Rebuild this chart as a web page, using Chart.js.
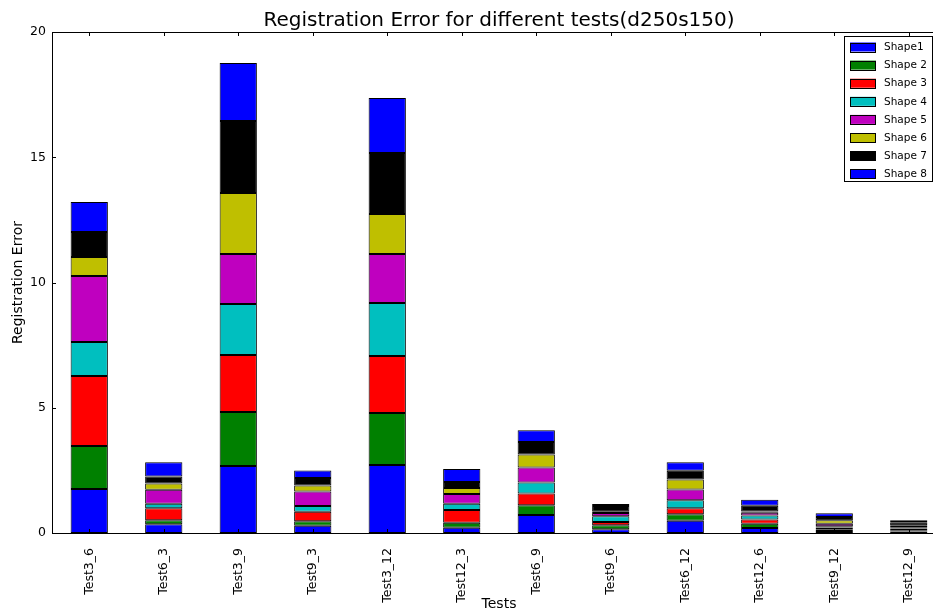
<!DOCTYPE html>
<html>
<head>
<meta charset="utf-8">
<script src="https://cdn.jsdelivr.net/npm/chart.js@4/dist/chart.umd.min.js"></script>
<style>
  html, body { margin: 0; padding: 0; background: #fff; overflow: hidden; width: 933px; height: 611px; }
  #wrap { width: 950px; height: 611px; }
</style>
</head>
<body>
<div id="wrap"><canvas id="c" width="950" height="611"></canvas></div>
<script>
const chartTitle = 'Registration Error for different tests(d250s150)';
const xTitle = 'Tests';
const yTitle = 'Registration Error';
const categories = ['Test3_6','Test6_3','Test3_9','Test9_3','Test3_12','Test12_3','Test6_9','Test9_6','Test6_12','Test12_6','Test9_12','Test12_9'];
const seriesNames = ['Shape1','Shape 2','Shape 3','Shape 4','Shape 5','Shape 6','Shape 7','Shape 8'];
const shape1 = [1.76, 0.35, 2.67, 0.29, 2.71, 0.21, 0.72, 0.15, 0.49, 0.20, 0.08, 0.06];
const shape2 = [1.71, 0.16, 2.16, 0.18, 2.08, 0.20, 0.39, 0.16, 0.26, 0.17, 0.07, 0.05];
const shape3 = [2.80, 0.48, 2.28, 0.38, 2.28, 0.51, 0.47, 0.13, 0.24, 0.17, 0.07, 0.07];
const shape4 = [1.35, 0.18, 2.03, 0.23, 2.11, 0.25, 0.44, 0.23, 0.32, 0.16, 0.05, 0.03];
const shape5 = [2.64, 0.56, 2.00, 0.58, 1.96, 0.39, 0.59, 0.13, 0.43, 0.11, 0.10, 0.07];
const shape6 = [0.76, 0.25, 2.43, 0.24, 1.59, 0.24, 0.52, 0.05, 0.40, 0.05, 0.14, 0.03];
const shape7 = [1.00, 0.28, 2.88, 0.30, 2.44, 0.24, 0.50, 0.23, 0.35, 0.23, 0.13, 0.12];
const shape8 = [1.19, 0.56, 2.31, 0.30, 2.20, 0.51, 0.47, 0.08, 0.33, 0.24, 0.15, 0.08];
const yTicks = [0, 5, 10, 15, 20];
const colors = ['#0000ff','#008000','#ff0000','#00bfbf','#bf00bf','#bfbf00','#000000','#0000ff'];

const seriesValues = [shape1, shape2, shape3, shape4, shape5, shape6, shape7, shape8];
const FONT = "'DejaVu Sans', sans-serif";

const datasets = seriesValues.map((vals, i) => ({
  label: seriesNames[i],
  data: vals,
  backgroundColor: colors[i],
  borderColor: '#000000',
  borderWidth: 1,
  borderSkipped: false,
  barPercentage: 0.5,
  categoryPercentage: 1.0
}));

const framePlugin = {
  id: 'frame',
  afterDraw(chart) {
    const ctx = chart.ctx;
    const a = chart.chartArea;
    const xs = chart.scales.x, ys = chart.scales.y;
    ctx.save();
    ctx.strokeStyle = '#000';
    ctx.lineWidth = 1;
    ctx.strokeRect(Math.round(a.left) + 0.5, Math.round(a.top) + 0.5, Math.round(a.right - a.left), Math.round(a.bottom - a.top));
    const tl = 4;
    ctx.beginPath();
    xs.ticks.forEach((t, i) => {
      const x = Math.round(xs.getPixelForTick(i)) + 0.5;
      ctx.moveTo(x, a.bottom); ctx.lineTo(x, a.bottom - tl);
      ctx.moveTo(x, a.top); ctx.lineTo(x, a.top + tl);
    });
    ys.ticks.forEach((t, i) => {
      const y = Math.round(ys.getPixelForTick(i)) + 0.5;
      ctx.moveTo(a.left, y); ctx.lineTo(a.left + tl, y);
      ctx.moveTo(a.right, y); ctx.lineTo(a.right - tl, y);
    });
    ctx.stroke();
    ctx.fillStyle = '#000';
    ctx.font = '20px ' + FONT;
    ctx.textAlign = 'center';
    ctx.textBaseline = 'middle';
    ctx.fillText(chartTitle, (a.left + a.right) / 2, 21);
    const lx = 844.5, ly = 36.5, lw = 88, lh = 145;
    ctx.fillStyle = '#fff';
    ctx.fillRect(lx, ly, lw, lh);
    ctx.strokeStyle = '#000';
    ctx.strokeRect(lx, ly, lw, lh);
    ctx.font = '10.5px ' + FONT;
    ctx.textAlign = 'left';
    chart.data.datasets.forEach((ds, i) => {
      const cy = 47 + i * 18.1;
      ctx.fillStyle = ds.backgroundColor;
      ctx.fillRect(850, cy - 4.5, 26, 9);
      ctx.strokeStyle = '#000';
      ctx.strokeRect(850.5, Math.round(cy - 4.5) + 0.5, 25, 9);
      ctx.fillStyle = '#000';
      ctx.fillText(ds.label, 884, cy + 0.5);
    });
    ctx.restore();
  }
};

new Chart(document.getElementById('c'), {
  type: 'bar',
  data: { labels: categories, datasets },
  options: {
    responsive: false,
    animation: false,
    layout: { padding: { top: 32, right: 4, left: 0, bottom: 0 } },
    plugins: { legend: { display: false }, tooltip: { enabled: false }, title: { display: false } },
    scales: {
      x: {
        stacked: true,
        grid: { display: false, drawTicks: false },
        border: { display: false },
        ticks: { color: '#000', font: { family: FONT, size: 12.5 }, minRotation: 90, maxRotation: 90, padding: 15, autoSkip: false },
        title: { display: true, text: xTitle, color: '#000', font: { family: FONT, size: 14 }, padding: { top: 0, bottom: -2 } },
        afterFit(s) { s.height = 78; }
      },
      y: {
        stacked: true,
        min: 0, max: 20,
        afterBuildTicks(s) { s.ticks = yTicks.map(v => ({ value: v })); },
        grid: { display: false, drawTicks: false },
        border: { display: false },
        ticks: { color: '#000', font: { family: FONT, size: 12.5 }, padding: 6 },
        title: { display: true, text: yTitle, color: '#000', font: { family: FONT, size: 14 }, padding: { top: 10, bottom: 0 } },
        afterFit(s) { s.width = 52; }
      }
    }
  },
  plugins: [framePlugin]
});
</script>
</body>
</html>
